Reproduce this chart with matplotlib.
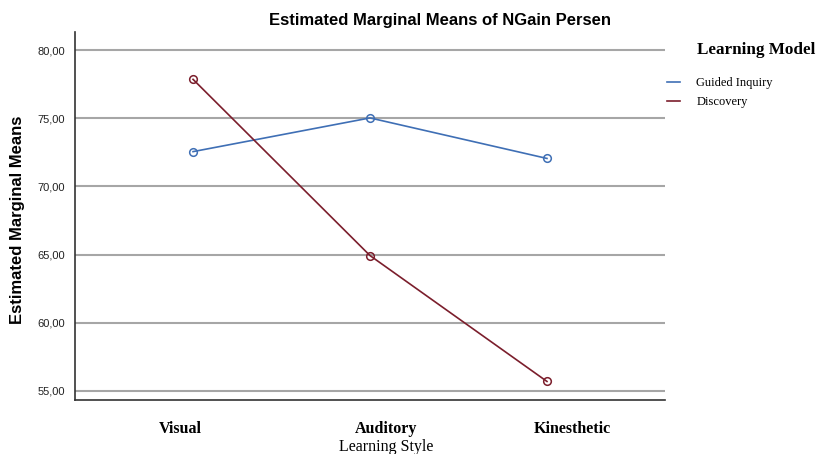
import matplotlib
matplotlib.use("Agg")
import matplotlib.pyplot as plt
import matplotlib.transforms as mtransforms
from matplotlib.ticker import FuncFormatter

categories = ["Visual", "Auditory", "Kinesthetic"]
guided_inquiry = [72.55, 75.02, 72.05]
discovery = [77.85, 64.93, 55.70]
series_names = ["Guided Inquiry", "Discovery"]
yticks = [55, 60, 65, 70, 75, 80]

W, H = 819, 454
fig = plt.figure(figsize=(W / 100, H / 100), dpi=100)
ax = fig.add_axes([75 / W, 1 - 400 / H, (665 - 75) / W, (400 - 32) / H])

x = list(range(len(categories)))
ax.plot(x, guided_inquiry, color="#3f6fb5", lw=1.2, marker="o", ms=5.5,
        mfc="none", mec="#3f6fb5", mew=1.1, label=series_names[0], zorder=3)
ax.plot(x, discovery, color="#7b1e2c", lw=1.2, marker="o", ms=5.5,
        mfc="none", mec="#7b1e2c", mew=1.1, label=series_names[1], zorder=3)

ax.set_xlim(-0.667, 2.667)
ax.set_ylim(54.34, 81.32)
ax.set_yticks(yticks)
ax.yaxis.set_major_formatter(FuncFormatter(lambda v, p: f"{v:.2f}".replace(".", ",")))
ax.grid(axis="y", color="#a6a6a6", lw=1.5)
ax.set_axisbelow(True)
for s in ["top", "right"]:
    ax.spines[s].set_visible(False)
for s in ["left", "bottom"]:
    ax.spines[s].set_color("#333333")
    ax.spines[s].set_linewidth(1.2)
ax.tick_params(axis="y", length=0, pad=7, labelsize=8, labelcolor="#222222")
ax.tick_params(axis="x", length=0, pad=15)
for lab in ax.get_yticklabels():
    lab.set_family("Liberation Sans")

ax.set_xticks(x)
ax.set_xticklabels(categories, family="Liberation Serif", fontweight="bold", fontsize=11.5)
offsets = [-13, 16, 25]
for lab, off in zip(ax.get_xticklabels(), offsets):
    lab.set_transform(lab.get_transform() + mtransforms.ScaledTranslation(off / 100, 0, fig.dpi_scale_trans))

ax.set_xlabel("Learning Style", family="Liberation Serif", fontsize=11.5)
ax.xaxis.label.set_verticalalignment("center")
ax.xaxis.set_label_coords((386 - 75) / (665 - 75), -(447 - 400) / (400 - 32))
ax.set_ylabel("Estimated Marginal Means", family="Liberation Sans", fontweight="bold",
              fontsize=12)
ax.yaxis.label.set_verticalalignment("center")
ax.yaxis.set_label_coords(-(75 - 18) / (665 - 75), (400 - 220) / (400 - 32))

fig.text(440 / W, 1 - 20 / H, "Estimated Marginal Means of NGain Persen",
         ha="center", va="center", family="Liberation Sans", fontweight="bold", fontsize=12)

fig.text(697 / W, 1 - 50 / H, "Learning Model", ha="left", va="center",
         family="Liberation Serif", fontweight="bold", fontsize=12.3)

leg = fig.legend(loc="upper left", bbox_to_anchor=(667 / W, 1 - 77 / H), frameon=False,
                 handlelength=1.05, handletextpad=1.3, borderpad=0, borderaxespad=0,
                 labelspacing=0.6, prop={"family": "Liberation Serif", "size": 9})
for h in leg.legend_handles:
    h.set_marker("")

fig.savefig("out.png", dpi=100)
